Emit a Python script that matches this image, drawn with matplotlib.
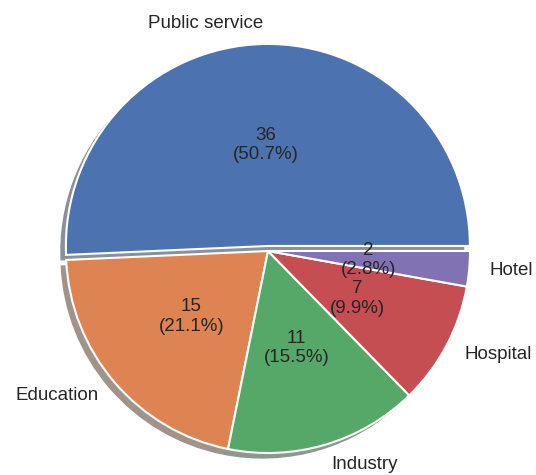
import matplotlib
matplotlib.use("Agg")
import matplotlib.pyplot as plt
import seaborn as sns

sns.set_theme(style="white")
plt.rcParams['font.family'] = ['Liberation Sans', 'DejaVu Sans']

categories = ["Public service", "Education", "Industry", "Hospital", "Hotel"]
counts = [36, 15, 11, 7, 2]
explode = [0.025, 0, 0, 0, 0]

colors = sns.color_palette("deep", len(categories))
total = sum(counts)


def fmt(pct):
    value = int(round(pct * total / 100.0))
    return f"{value}\n({pct:.1f}%)"


fig = plt.figure(figsize=(5.36, 4.75), dpi=100)
ax = fig.add_axes([0, 0, 1, 1])
ax.pie(counts, labels=categories, colors=colors, explode=explode,
       autopct=fmt, pctdistance=0.5, labeldistance=1.1,
       shadow=dict(ox=-0.02, oy=-0.02, shade=0.7, linewidth=0),
       wedgeprops=dict(edgecolor="white", linewidth=1.5),
       textprops=dict(fontsize=13.5, color="0.15"))

# place the unit circle at a fixed spot on the canvas
scale = 202.0
cx, cy = 268.0, 251.0
ax.set_aspect("auto")
ax.set_xlim(-cx / scale, (536 - cx) / scale)
ax.set_ylim(-(475 - cy) / scale, cy / scale)
ax.axis("off")

fig.savefig("out.png", dpi=100)
